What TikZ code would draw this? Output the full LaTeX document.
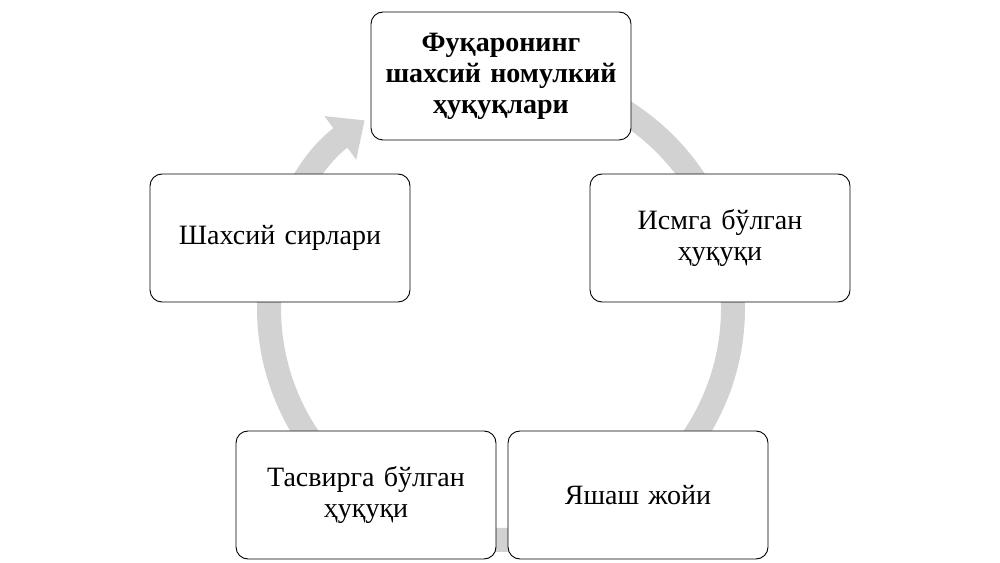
\documentclass[tikz,border=0pt]{standalone}
\usepackage{fontspec}
\setmainfont{Liberation Serif}
\usetikzlibrary{arrows.meta}
\begin{document}
\begin{tikzpicture}[x=1pt,y=1pt,
every node/.style={font=\fontsize{28}{31}\selectfont},
item/.style={%
draw,
fill=white,
line width=0.9pt,
rounded corners=12pt,
minimum width=260pt,
minimum height=128pt,
align=center,
text width=245pt
}]
\useasboundingbox (0,0) rectangle (1000,562);
% ring
\coordinate (c) at (501,254);
\draw[line width=24pt,draw=gray!35,-{Triangle[length=30pt,width=52pt]}]
 (c) ++(90:232) arc[start angle=90,end angle=-234,radius=232];
% boxes
\node[item,font=\fontsize{28}{31}\selectfont\bfseries] (top) at (501,486) {Фуқаронинг\\шахсий номулкий\\ҳуқуқлари};
\node[item] (right) at (720,324) {Исмга бўлган\\ҳуқуқи};
\node[item] (botr) at (638,67) {Яшаш жойи};
\node[item] (botl) at (366,67) {Тасвирга бўлган\\ҳуқуқи};
\node[item] (left) at (280,324) {Шахсий сирлари};
\end{tikzpicture}
\end{document}
